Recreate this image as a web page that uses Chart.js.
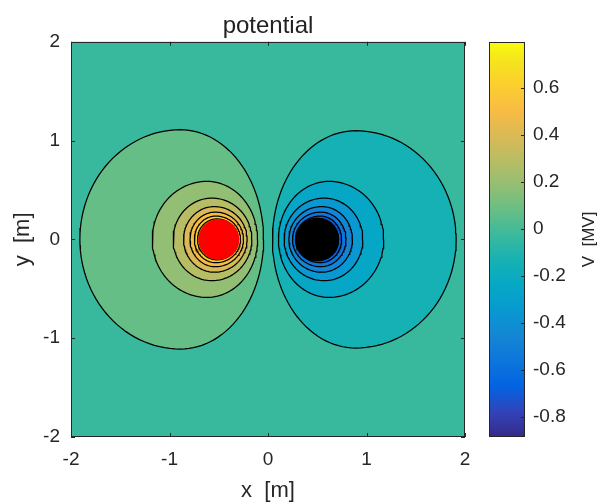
<!DOCTYPE html>
<html>
<head>
<meta charset="utf-8">
<script src="https://cdn.jsdelivr.net/npm/chart.js@4.4.1/dist/chart.umd.min.js"></script>
<style>
  html, body { margin: 0; background: #fff; }
  #wrap { position: relative; width: 599px; height: 504px; }
  canvas { position: absolute; top: 0; }
  #plot { left: 0; }
  #bar { left: 470px; }
</style>
</head>
<body>
<div id="wrap">
  <canvas id="plot" width="599" height="504"></canvas>
  <canvas id="bar" width="129" height="504"></canvas>
</div>
<script>
// Tick values
const xTicks = [-2, -1, 0, 1, 2];
const yTicks = [-2, -1, 0, 1, 2];
const cbTicks = [-0.8, -0.6, -0.4, -0.2, 0, 0.2, 0.4, 0.6];
const cbRange = [-0.886, 0.794];

// Contour levels [MV], the band above a level gets that level's colour
const levels = [-0.78, -0.675, -0.57, -0.465, -0.36, -0.255, -0.15, -0.045,
  0.06, 0.165, 0.27, 0.375, 0.48, 0.585, 0.69];

// Contour rings: level, crossings on y = 0, x of the top, half height
const ringLevel = [0.06, 0.165, 0.27, 0.375, 0.48, 0.585, 0.69,
  -0.045, -0.15, -0.255, -0.36, -0.465, -0.57, -0.675, -0.78];
const ringLeft = [-1.91, -1.175, -0.963, -0.857, -0.792, -0.747, -0.715,
  0.045, 0.106, 0.164, 0.212, 0.249, 0.279, 0.303, 0.323];
const ringPeak = [-0.89, -0.62, -0.57, -0.545, -0.535, -0.53, -0.52,
  0.89, 0.62, 0.57, 0.545, 0.535, 0.53, 0.52, 0.51];
const ringRight = [-0.045, -0.106, -0.164, -0.212, -0.249, -0.279, -0.303,
  1.91, 1.175, 0.963, 0.857, 0.792, 0.747, 0.715, 0.69];
const ringHalf = [1.11, 0.587, 0.418, 0.332, 0.276, 0.236, 0.207,
  1.10, 0.587, 0.418, 0.332, 0.276, 0.236, 0.207, 0.185];

// The two charges (+ red, - black)
const chargeX = [-0.5, 0.5];
const chargeY = [0, 0];

// parula colormap, every 4th of the 64 entries (last one is entry 63)
const parula = ['#352a87', '#3243ba', '#0363e1', '#0d75dc', '#1485d4', '#0998d1',
  '#06a7c6', '#15b1b4', '#38b99e', '#65be86', '#92bf73', '#b7bd64', '#d9ba56',
  '#f8bb44', '#fcce2e', '#f5e41d', '#f9fb0e'];
const parulaPos = parula.map((c, i) => Math.min(i * 4, 63) / 63);

const textColor = '#262626';
Chart.defaults.font.family = "'Liberation Sans', Arial, sans-serif";

function hexToRgb(h) {
  return [1, 3, 5].map(i => parseInt(h.slice(i, i + 2), 16));
}

// colour at position t (0..1) along the colormap
function colorAt(t) {
  let k = 0;
  while (k < parulaPos.length - 2 && t > parulaPos[k + 1]) k++;
  const f = Math.max(0, Math.min(1, (t - parulaPos[k]) / (parulaPos[k + 1] - parulaPos[k])));
  const a = hexToRgb(parula[k]);
  const b = hexToRgb(parula[k + 1]);
  const c = a.map((v, i) => Math.round(v + (b[i] - v) * f));
  return 'rgb(' + c.join(',') + ')';
}

// colour of a value, as an index into 64 colours
function levelColor(v) {
  const idx = Math.max(0, Math.min(63, Math.floor((v - cbRange[0]) / (cbRange[1] - cbRange[0]) * 64)));
  return colorAt(idx / 63);
}

// fill colour inside a ring
function ringColor(i) {
  const L = ringLevel[i];
  if (L > 0) return levelColor(L);
  const k = levels.indexOf(L);
  return levelColor(k > 0 ? levels[k - 1] : cbRange[0]);
}

const bgColor = levelColor(Math.max(...levels.filter(v => v < 0)));

// closed ring outline from the read values
function ringPoints(i) {
  const pts = [];
  for (let k = 0; k <= 120; k++) {
    const t = k / 120 * 2 * Math.PI;
    const c = Math.cos(t);
    const rx = c >= 0 ? ringRight[i] - ringPeak[i] : ringPeak[i] - ringLeft[i];
    pts.push({ x: ringPeak[i] + rx * c, y: ringHalf[i] * Math.sin(t) });
  }
  return pts;
}

const datasets = [];
datasets.push({
  data: [{ x: chargeX[0], y: chargeY[0] }],
  pointRadius: 20.5, backgroundColor: '#ff0000', borderWidth: 0, order: 0
});
datasets.push({
  data: [{ x: chargeX[1], y: chargeY[1] }],
  pointRadius: 22, backgroundColor: '#000000', borderWidth: 0, order: 0
});
ringLevel.forEach((L, i) => {
  datasets.push({
    data: ringPoints(i),
    showLine: true,
    fill: 'shape',
    backgroundColor: ringColor(i),
    borderColor: '#000',
    borderWidth: 1.25,
    pointRadius: 0,
    tension: 0,
    order: 1 + Math.round(ringHalf[i] * 1000)
  });
});

// plot background, box and inward ticks
const frame = {
  id: 'frame',
  beforeDatasetsDraw(chart) {
    const { ctx, chartArea: a } = chart;
    ctx.save();
    ctx.fillStyle = bgColor;
    ctx.fillRect(a.left, a.top, a.right - a.left, a.bottom - a.top);
    ctx.restore();
  },
  afterDraw(chart) {
    const { ctx, chartArea: a, scales } = chart;
    ctx.save();
    ctx.strokeStyle = textColor;
    ctx.lineWidth = 1;
    ctx.strokeRect(Math.round(a.left) + 0.5, Math.round(a.top) + 0.5,
      Math.round(a.right - a.left) - 1, Math.round(a.bottom - a.top) - 1);
    ctx.beginPath();
    xTicks.forEach(v => {
      const px = Math.round(scales.x.getPixelForValue(v)) + 0.5;
      ctx.moveTo(px, a.bottom); ctx.lineTo(px, a.bottom - 4);
      ctx.moveTo(px, a.top); ctx.lineTo(px, a.top + 4);
    });
    yTicks.forEach(v => {
      const py = Math.round(scales.y.getPixelForValue(v)) + 0.5;
      ctx.moveTo(a.left, py); ctx.lineTo(a.left + 4, py);
      ctx.moveTo(a.right, py); ctx.lineTo(a.right - 4, py);
    });
    ctx.stroke();
    ctx.restore();
  }
};

new Chart(document.getElementById('plot'), {
  type: 'scatter',
  data: { datasets },
  options: {
    responsive: false,
    animation: false,
    events: [],
    layout: { padding: { left: 0, right: 134, top: 0, bottom: 0 } },
    plugins: {
      legend: { display: false },
      tooltip: { enabled: false },
      title: {
        display: true, text: 'potential', fullSize: false, color: '#222',
        font: { size: 24, weight: 'normal' }, padding: { top: 12, bottom: 1 }
      }
    },
    scales: {
      x: {
        type: 'linear', min: -2, max: 2,
        afterBuildTicks: s => { s.ticks = xTicks.map(v => ({ value: v })); },
        afterFit: s => { s.height = 67; },
        grid: { display: false, drawTicks: false },
        border: { display: false },
        ticks: { color: textColor, font: { size: 19 }, padding: 11 },
        title: { display: true, text: 'x  [m]', color: textColor, font: { size: 22 }, padding: { top: 0, bottom: 0 } }
      },
      y: {
        type: 'linear', min: -2, max: 2,
        afterBuildTicks: s => { s.ticks = yTicks.map(v => ({ value: v })); },
        afterFit: s => { s.width = 71; },
        grid: { display: false, drawTicks: false },
        border: { display: false },
        ticks: { color: textColor, font: { size: 19 }, padding: 11 },
        title: { display: true, text: 'y  [m]', color: textColor, font: { size: 22 }, padding: { top: 10, bottom: 0 } }
      }
    }
  },
  plugins: [frame]
});

// colorbar: one floating bar filled with the colormap
function cbGradient(context) {
  const chart = context.chart;
  if (!chart.chartArea) return colorAt(0.5);
  const y = chart.scales.y;
  const g = chart.ctx.createLinearGradient(0, y.getPixelForValue(cbRange[0]), 0, y.getPixelForValue(cbRange[1]));
  parula.forEach((c, i) => g.addColorStop(parulaPos[i], c));
  return g;
}

const cbFrame = {
  id: 'cbFrame',
  afterDraw(chart) {
    const { ctx, chartArea: a, scales } = chart;
    ctx.save();
    ctx.strokeStyle = textColor;
    ctx.lineWidth = 1;
    ctx.strokeRect(Math.round(a.left) + 0.5, Math.round(a.top) + 0.5,
      Math.round(a.right - a.left) - 1, Math.round(a.bottom - a.top) - 1);
    ctx.beginPath();
    cbTicks.forEach(v => {
      const py = Math.round(scales.y.getPixelForValue(v)) + 0.5;
      ctx.moveTo(a.right, py); ctx.lineTo(a.right - 4, py);
    });
    ctx.stroke();
    ctx.translate(119.5, (a.top + a.bottom) / 2);
    ctx.rotate(-Math.PI / 2);
    ctx.fillStyle = textColor;
    ctx.font = "17px 'Liberation Sans', Arial, sans-serif";
    ctx.textAlign = 'center';
    ctx.textBaseline = 'middle';
    ctx.fillText('V  [MV]', 0, 0);
    ctx.restore();
  }
};

new Chart(document.getElementById('bar'), {
  type: 'bar',
  data: {
    labels: ['V'],
    datasets: [{
      data: [cbRange],
      backgroundColor: cbGradient,
      borderWidth: 0,
      barPercentage: 1,
      categoryPercentage: 1
    }]
  },
  options: {
    responsive: false,
    animation: false,
    events: [],
    layout: { padding: { left: 19, right: 0, top: 42, bottom: 67 } },
    plugins: { legend: { display: false }, tooltip: { enabled: false } },
    scales: {
      x: { display: false },
      y: {
        position: 'right', min: cbRange[0], max: cbRange[1],
        afterBuildTicks: s => { s.ticks = cbTicks.map(v => ({ value: v })); },
        afterFit: s => { s.width = 74; },
        grid: { display: false, drawTicks: false },
        border: { display: false },
        ticks: { color: textColor, font: { size: 19 }, padding: 8 }
      }
    }
  },
  plugins: [cbFrame]
});
</script>
</body>
</html>
